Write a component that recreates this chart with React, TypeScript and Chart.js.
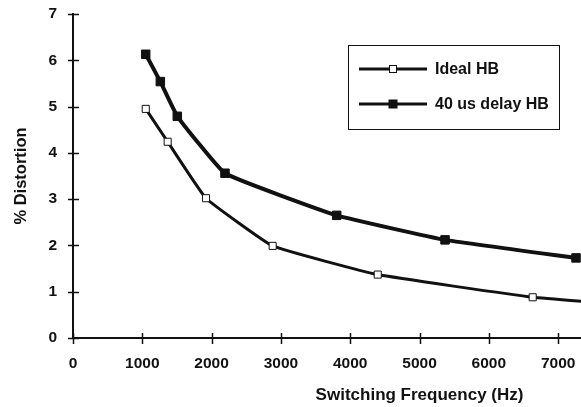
import React, { useEffect, useRef } from 'react';
import { Chart, registerables } from 'chart.js';

Chart.register(...registerables);

// ---- data ----
const seriesLabels = ['Ideal HB', '40 us delay HB'];
const idealFreq = [1050, 1366, 1919, 2881, 4397, 6633, 8000];
const idealDist = [4.95, 4.24, 3.02, 1.99, 1.37, 0.88, 0.72];
const delayFreq = [1049, 1260, 1505, 2193, 3805, 5368, 7258];
const delayDist = [6.13, 5.54, 4.79, 3.56, 2.65, 2.12, 1.73];
const xTickValues = [0, 1000, 2000, 3000, 4000, 5000, 6000, 7000];
const yTickValues = [0, 1, 2, 3, 4, 5, 6, 7];
const xTitle = 'Switching Frequency (Hz)';
const xTitleCenterValue = 5000; // the original axis (0..10000) is cropped at the right
const yTitle = '% Distortion';

const FONT = "'Liberation Sans', Arial, sans-serif";
const INK = '#111111';

const crossTicks = {
  id: 'crossTicks',
  afterDatasetsDraw(chart: any) {
    const { ctx, scales } = chart;
    const xs = scales.x;
    const ys = scales.y;
    const area = chart.chartArea;
    ctx.save();
    ctx.strokeStyle = INK;
    ctx.lineWidth = 1.5;
    ctx.beginPath();
    xTickValues.forEach((v) => {
      const px = Math.round(xs.getPixelForValue(v)) + 0.5;
      ctx.moveTo(px, area.bottom - 5);
      ctx.lineTo(px, area.bottom + 6);
    });
    yTickValues.forEach((v) => {
      const py = Math.round(ys.getPixelForValue(v)) + 0.5;
      ctx.moveTo(area.left - 5, py);
      ctx.lineTo(area.left + 6, py);
    });
    ctx.stroke();
    ctx.restore();
  },
};

const xAxisTitle = {
  id: 'xAxisTitle',
  afterDraw(chart: any) {
    const { ctx, scales } = chart;
    const cx = scales.x.getPixelForValue(xTitleCenterValue);
    ctx.save();
    ctx.fillStyle = INK;
    ctx.font = `bold 17px ${FONT}`;
    ctx.textAlign = 'center';
    ctx.textBaseline = 'alphabetic';
    ctx.fillText(xTitle, cx, chart.chartArea.bottom + 62);
    ctx.restore();
  },
};

const boxLegend = {
  id: 'boxLegend',
  afterDraw(chart: any) {
    const { ctx } = chart;
    const bx = 348, by = 45, bw = 211, bh = 84;
    ctx.save();
    ctx.fillStyle = '#ffffff';
    ctx.fillRect(bx, by, bw, bh);
    ctx.strokeStyle = INK;
    ctx.lineWidth = 1;
    ctx.strokeRect(bx + 0.5, by + 0.5, bw, bh);
    chart.data.datasets.forEach((ds: any, i: number) => {
      const y = by + 24 + i * 35;
      ctx.strokeStyle = INK;
      ctx.lineWidth = 3;
      ctx.beginPath();
      ctx.moveTo(bx + 11, y);
      ctx.lineTo(bx + 79, y);
      ctx.stroke();
      const mx = bx + 45;
      const s = i === 0 ? 7 : 8;
      ctx.fillStyle = ds.pointBackgroundColor;
      ctx.fillRect(mx - s / 2, y - s / 2, s, s);
      ctx.lineWidth = 1;
      ctx.strokeRect(mx - s / 2, y - s / 2, s, s);
      ctx.fillStyle = INK;
      ctx.font = `bold 16px ${FONT}`;
      ctx.textAlign = 'left';
      ctx.textBaseline = 'middle';
      ctx.fillText(ds.label, bx + 87, y + 1);
    });
    ctx.restore();
  },
};

export default function App() {
  const ref = useRef<HTMLCanvasElement | null>(null);

  useEffect(() => {
    document.body.style.margin = '0';
    const canvas = ref.current;
    if (!canvas) return;
    const chart = new Chart(canvas, {
      type: 'line',
      data: {
        datasets: [
          {
            label: seriesLabels[0],
            data: idealFreq.map((x, i) => ({ x, y: idealDist[i] })),
            borderColor: INK,
            borderWidth: 3,
            pointStyle: 'rect',
            pointRadius: 5,
            pointBorderWidth: 1,
            pointBackgroundColor: '#ffffff',
            pointBorderColor: INK,
            tension: 0.1,
          },
          {
            label: seriesLabels[1],
            data: delayFreq.map((x, i) => ({ x, y: delayDist[i] })),
            borderColor: INK,
            borderWidth: 4,
            pointStyle: 'rect',
            pointRadius: 6,
            pointBorderWidth: 1,
            pointBackgroundColor: INK,
            pointBorderColor: INK,
            tension: 0.1,
          },
        ],
      },
      options: {
        responsive: false,
        animation: false,
        layout: { autoPadding: false, padding: { top: 14, right: 0, left: 0, bottom: 0 } },
        plugins: {
          legend: { display: false },
          tooltip: { enabled: false },
        },
        scales: {
          x: {
            type: 'linear',
            min: 0,
            max: 7330,
            grid: { display: false, drawTicks: false },
            border: { display: true, color: INK, width: 2 },
            ticks: {
              stepSize: 1000,
              padding: 16,
              color: INK,
              maxRotation: 0,
              font: { family: FONT, size: 15.5, weight: 'bold' },
              callback: (v: any) => String(v),
            },
            afterBuildTicks: (scale: any) => {
              scale.ticks = xTickValues.map((v) => ({ value: v }));
            },
            afterFit: (scale: any) => {
              scale.height = 69;
              scale.paddingLeft = 0;
              scale.paddingRight = 0;
            },
            title: { display: false },
          },
          y: {
            type: 'linear',
            min: 0,
            max: 7,
            grid: { display: false, drawTicks: false },
            border: { display: true, color: INK, width: 2 },
            ticks: {
              stepSize: 1,
              padding: 16,
              color: INK,
              font: { family: FONT, size: 15.5, weight: 'bold' },
              callback: (v: any) => String(v),
            },
            afterBuildTicks: (scale: any) => {
              scale.ticks = yTickValues.map((v) => ({ value: v }));
            },
            afterFit: (scale: any) => {
              scale.width = 73;
              scale.paddingTop = 0;
              scale.paddingBottom = 0;
            },
            title: {
              display: true,
              text: yTitle,
              color: INK,
              font: { family: FONT, size: 16.5, weight: 'bold' },
              padding: { top: 12, bottom: 0 },
            },
          },
        },
      },
      plugins: [crossTicks, xAxisTitle, boxLegend],
    } as any);
    return () => chart.destroy();
  }, []);

  return (
    <div style={{ width: 581, height: 407, background: '#ffffff' }}>
      <canvas ref={ref} width={581} height={407} style={{ display: 'block' }} />
    </div>
  );
}
